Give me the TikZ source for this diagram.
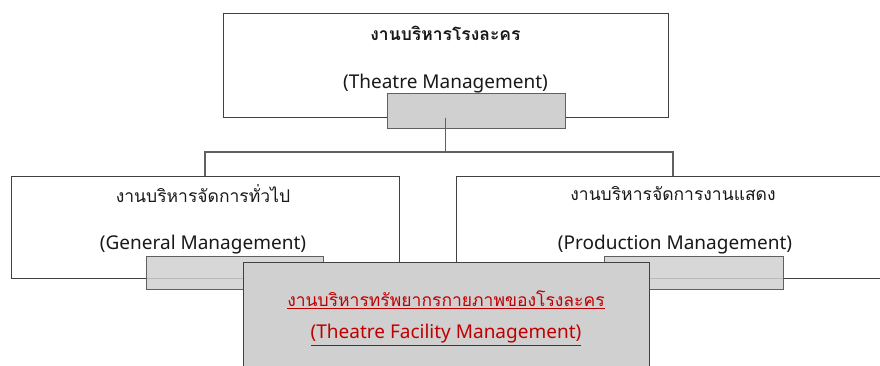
\documentclass[tikz,border=0pt]{standalone}
\usepackage{fontspec}
\setmainfont{Noto Sans}
\newfontfamily\thaifont[Script=Thai]{Loma}
\definecolor{boxline}{HTML}{404040}
\definecolor{busline}{HTML}{606060}
\definecolor{tabgray}{HTML}{D0D0D0}
\definecolor{facred}{HTML}{C00000}
\tikzset{
  unitbox/.style={draw=boxline, line width=1pt, fill=white, inner sep=0pt},
  tab/.style={draw=busline, line width=1pt, fill=tabgray, inner sep=0pt},
  bus/.style={draw=busline, line width=1.5pt},
  thlbl/.style={inner sep=0pt, font=\thaifont\fontsize{17.5}{20}\selectfont, text=black!90},
  enlbl/.style={inner sep=0pt, font=\fontsize{19}{22}\selectfont, text=black!90}
}
\begin{document}
\begin{tikzpicture}[x=1pt, y=-1pt]
  \useasboundingbox (0,0) rectangle (880,365);
  \clip (0,0) rectangle (880,365);
  \fill[white] (0,0) rectangle (880,365);
  % head unit
  \node[unitbox, minimum width=445pt, minimum height=104pt] (theatre) at (445.5,65) {};
  \node[tab, minimum width=178pt, minimum height=35pt] (theatretab) at (476,110.5) {};
  \node[thlbl, font=\thaifont\bfseries\fontsize{17.5}{20}\selectfont] (theatreth) at (445.5,33) {งานบริหารโรงละคร};
  \node[enlbl] (theatreen) at (445.5,84) {(Theatre Management)};
  % second level
  \node[unitbox, minimum width=388pt, minimum height=102pt] (general) at (205,227) {};
  \node[unitbox, minimum width=434pt, minimum height=102pt] (production) at (673,227) {};
  \node[tab, fill opacity=0.85, minimum width=177pt, minimum height=33pt] (generaltab) at (234.5,272.5) {};
  \node[tab, fill opacity=0.85, minimum width=179pt, minimum height=33pt] (productiontab) at (693.5,272.5) {};
  \node[thlbl] (generalth) at (203,194) {งานบริหารจัดการทั่วไป};
  \node[enlbl] (generalen) at (203,245) {(General Management)};
  \node[thlbl] (productionth) at (673,194) {งานบริหารจัดการงานแสดง};
  \node[enlbl] (productionen) at (675,245) {(Production Management)};
  % connectors
  \coordinate (split) at (445.5,152);
  \draw[bus] (theatre.south) -- (split);
  \draw[bus] (general.north) |- (split) -| (production.north);
  % facility unit
  \node[tab, draw=boxline, minimum width=406pt, minimum height=118pt] (facility) at (446,321) {};
  \node[thlbl, text=facred] (facilityth) at (446,300) {\underline{งานบริหารทรัพยากรกายภาพของโรงละคร}};
  \node[enlbl, text=facred] (facilityen) at (446,335) {\underline{(Theatre Facility Management)}};
\end{tikzpicture}
\end{document}
